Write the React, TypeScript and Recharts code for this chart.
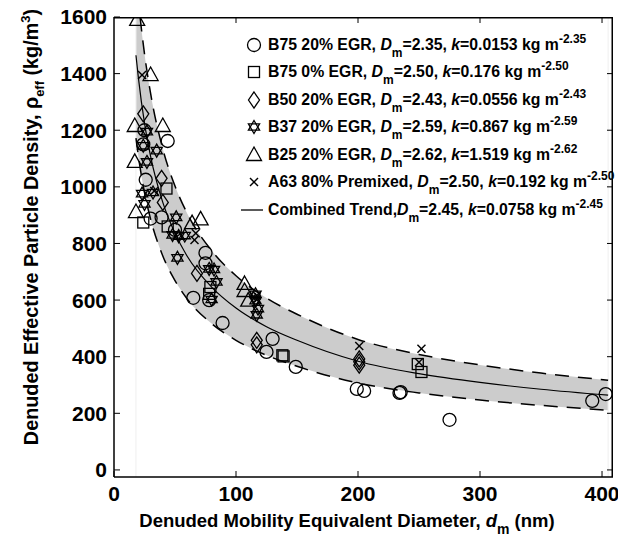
import React from 'react';
import { ComposedChart, Area, Line, Scatter, XAxis, YAxis, Legend, ReferenceLine } from 'recharts';

const FONT = 'Arial, "Liberation Sans", Helvetica, sans-serif';

// combined power-law trend and its shaded band
const trendX = [18, 20, 25, 30, 40, 50, 60, 80, 100, 125, 150, 200, 250, 300, 350, 405];
const trendY = [1465, 1385, 1225, 1108, 945, 836, 755, 646, 572, 506, 458, 384, 340, 309, 285, 264];
const upperY = [1760, 1660, 1470, 1330, 1134, 1003, 906, 775, 686, 607, 550, 461, 408, 371, 342, 317];
const lowerY = [1172, 1108, 980, 886, 756, 669, 604, 517, 458, 405, 366, 307, 272, 247, 228, 211];

// measured points, [d_m (nm), rho_eff (kg/m3)]
const b75egr20 = [
  [25, 1200], [24, 1150], [44, 1162], [26, 1025], [30, 888], [39, 892], [50, 848],
  [75, 767], [75, 730], [65, 608], [78, 600], [89, 519], [130, 463], [125, 417],
  [149, 364], [199, 286], [205, 279], [234, 272], [235, 275], [275, 177], [392, 244], [403, 268],
];
const b75egr0 = [
  [43, 994], [24, 874], [44, 860], [79, 646], [78, 622], [138, 405], [139, 401], [249, 374], [252, 346],
];
const b50egr20 = [
  [24, 1258], [39, 1030], [40, 945], [68, 694], [117, 458], [117, 442], [201, 392], [201, 382], [201, 370],
];
const b37egr20 = [
  [27, 1195], [24, 1145], [35, 1128], [27, 1088], [23, 976], [32, 980], [25, 940], [51, 892],
  [48, 830], [53, 826], [58, 828], [52, 749], [78, 710], [82, 708], [84, 664], [80, 602],
  [116, 620], [116, 598], [118, 570], [117, 548],
];
const b25egr20 = [
  [19, 1590], [30, 1395], [17, 1215], [40, 1215], [17, 1088], [18, 911], [64, 872], [71, 885],
  [107, 657], [107, 632], [110, 598],
];
const a63pre80 = [
  [23, 1395], [33, 985], [67, 836], [66, 812], [117, 616], [117, 602], [201, 438], [252, 428], [250, 380],
];

const seriesNames = ['B75 20% EGR', 'B75 0% EGR', 'B50 20% EGR', 'B37 20% EGR', 'B25 20% EGR', 'A63 80% Premixed', 'Combined Trend'];
const dmValues = ['2.35', '2.50', '2.43', '2.59', '2.62', '2.50', '2.45'];
const kValues = ['0.0153', '0.176', '0.0556', '0.867', '1.519', '0.192', '0.0758'];
const markerKinds = ['circle', 'square', 'diamond', 'hexagram', 'triangle', 'cross'];

const xTicks = [0, 100, 200, 300, 400];
const yTicks = [0, 200, 400, 600, 800, 1000, 1200, 1400, 1600];
const X_MAX = 409;
const Y_MIN = -25;
const Y_MAX = 1600;

const trendData = trendX.map((x, i) => ({
  x,
  trend: trendY[i],
  upper: upperY[i],
  lower: lowerY[i],
  band: [lowerY[i], upperY[i]],
}));

const toPoints = (arr: number[][]) => arr.map(([x, y]) => ({ x, y }));
const pointSets = [b75egr20, b75egr0, b50egr20, b37egr20, b25egr20, a63pre80].map(toPoints);

// top and right edges of the axes box, and their inward ticks
const boxEdge = [{ x: 0, y: Y_MAX }, { x: X_MAX, y: Y_MAX }, { x: X_MAX, y: Y_MIN }];
const topTicks = xTicks.slice(1).map((x) => ({ x, y: Y_MAX }));
const rightTicks = yTicks.map((y) => ({ x: X_MAX, y }));

function Marker({ kind, cx, cy }: { kind: string; cx: number; cy: number }) {
  const s = { fill: 'none', stroke: '#000', strokeWidth: 1.3 };
  switch (kind) {
    case 'circle':
      return <circle cx={cx} cy={cy} r={6.5} {...s} />;
    case 'square':
      return <rect x={cx - 5.5} y={cy - 5.5} width={11} height={11} {...s} />;
    case 'diamond':
      return <polygon points={`${cx},${cy - 8} ${cx + 5.5},${cy} ${cx},${cy + 8} ${cx - 5.5},${cy}`} {...s} />;
    case 'hexagram':
      return (
        <g {...s}>
          <polygon points={`${cx},${cy - 6.5} ${cx + 5.6},${cy + 3.2} ${cx - 5.6},${cy + 3.2}`} />
          <polygon points={`${cx},${cy + 6.5} ${cx + 5.6},${cy - 3.2} ${cx - 5.6},${cy - 3.2}`} />
        </g>
      );
    case 'triangle':
      return <polygon points={`${cx},${cy - 8} ${cx + 7.5},${cy + 5.5} ${cx - 7.5},${cy + 5.5}`} {...s} />;
    default:
      return (
        <g stroke="#000" strokeWidth={1.4}>
          <line x1={cx - 4} y1={cy - 4} x2={cx + 4} y2={cy + 4} />
          <line x1={cx - 4} y1={cy + 4} x2={cx + 4} y2={cy - 4} />
        </g>
      );
  }
}

const renderLegend = () => (
  <div style={{ fontFamily: FONT, fontWeight: 'bold', fontSize: 15.8, color: '#000' }}>
    {seriesNames.map((name, i) => (
      <div key={name} style={{ height: 27.5, display: 'flex', alignItems: 'center', whiteSpace: 'nowrap' }}>
        <svg width={28} height={20} style={{ flex: 'none' }}>
          {i < markerKinds.length ? (
            <Marker kind={markerKinds[i]} cx={14} cy={10} />
          ) : (
            <line x1={1} y1={10} x2={23} y2={10} stroke="#000" strokeWidth={1.3} />
          )}
        </svg>
        <span>
          {name},{i === 6 ? '' : ' '}
          <i>D</i>
          <span style={{ fontSize: 12, position: 'relative', top: 7 }}>m</span>={dmValues[i]}, <i>k</i>={kValues[i]} kg m
          <span style={{ fontSize: 12, position: 'relative', top: -7 }}>-{dmValues[i]}</span>
        </span>
      </div>
    ))}
  </div>
);

const XTitle = () => (
  <text x={347} y={527} textAnchor="middle" fontFamily={FONT} fontWeight="bold" fontSize={18.5} fill="#000">
    Denuded Mobility Equivalent Diameter,{' '}
    <tspan fontStyle="italic">d</tspan>
    <tspan dy={7} fontSize={14}>m</tspan>
    <tspan dy={-7}> (nm)</tspan>
  </text>
);

const YTitle = () => (
  <text
    x={38}
    y={227}
    transform="rotate(-90 38 227)"
    textAnchor="middle"
    fontFamily={FONT}
    fontWeight="bold"
    fontSize={19.8}
    fill="#000"
  >
    Denuded Effective Particle Density, ρ
    <tspan dy={6} fontSize={13}>eff</tspan>
    <tspan dy={-6}> (kg/m</tspan>
    <tspan dy={-8} fontSize={13}>3</tspan>
    <tspan dy={8}>)</tspan>
  </text>
);

const tickStyle = { fill: '#000', fontSize: 21, fontWeight: 'bold', fontFamily: FONT };
const axisLine = { stroke: '#000', strokeWidth: 1.5 };

export default function App() {
  return (
    <div style={{ position: 'absolute', left: 0, top: 0, background: '#fff' }}>
      <ComposedChart width={618} height={544} data={trendData} margin={{ top: 17, right: 5, bottom: 0, left: 0 }}>
        <XAxis
          dataKey="x"
          type="number"
          domain={[0, X_MAX]}
          ticks={xTicks}
          interval={0}
          height={67}
          tick={tickStyle}
          tickSize={-6}
          tickMargin={15}
          tickLine={{ stroke: '#000' }}
          axisLine={axisLine}
          allowDataOverflow
          label={{ content: XTitle }}
        />
        <YAxis
          type="number"
          domain={[Y_MIN, Y_MAX]}
          ticks={yTicks}
          interval={0}
          width={114}
          tick={tickStyle}
          tickSize={-6}
          tickMargin={13}
          tickLine={{ stroke: '#000' }}
          axisLine={axisLine}
          allowDataOverflow
          label={{ content: YTitle }}
        />
        <ReferenceLine x={18} stroke="#efefef" strokeWidth={1} />
        <ReferenceLine x={405} stroke="#efefef" strokeWidth={1} />
        <Area
          type="monotone"
          dataKey="band"
          stroke="none"
          fill="#cccccc"
          fillOpacity={1}
          isAnimationActive={false}
          legendType="none"
        />
        <Line type="monotone" dataKey="upper" stroke="#000" strokeWidth={1.5} strokeDasharray="14 9" dot={false} activeDot={false} isAnimationActive={false} legendType="none" />
        <Line type="monotone" dataKey="lower" stroke="#000" strokeWidth={1.5} strokeDasharray="14 9" dot={false} activeDot={false} isAnimationActive={false} legendType="none" />
        <Line type="monotone" dataKey="trend" stroke="#000" strokeWidth={1.2} dot={false} activeDot={false} isAnimationActive={false} />
        {pointSets.map((pts, i) => (
          <Scatter
            key={seriesNames[i]}
            name={seriesNames[i]}
            data={pts}
            dataKey="y"
            isAnimationActive={false}
            shape={(p: any) => <Marker kind={markerKinds[i]} cx={p.cx} cy={p.cy} />}
          />
        ))}
        {/* box frame: top/right edges as a connected scatter line, ticks as short marks */}
        <Scatter
          name="box"
          data={boxEdge}
          dataKey="y"
          isAnimationActive={false}
          legendType="none"
          line={{ stroke: '#000', strokeWidth: 3 }}
          lineJointType="linear"
          shape={() => <g />}
        />
        <Scatter
          name="top ticks"
          data={topTicks}
          dataKey="y"
          isAnimationActive={false}
          legendType="none"
          shape={(p: any) => <line x1={p.cx} y1={p.cy} x2={p.cx} y2={p.cy + 6} stroke="#000" strokeWidth={1} />}
        />
        <Scatter
          name="right ticks"
          data={rightTicks}
          dataKey="y"
          isAnimationActive={false}
          legendType="none"
          shape={(p: any) => <line x1={p.cx} y1={p.cy} x2={p.cx - 6} y2={p.cy} stroke="#000" strokeWidth={1} />}
        />
        <Legend
          layout="vertical"
          align="center"
          verticalAlign="middle"
          content={renderLegend}
          wrapperStyle={{ left: 240, top: 31, width: 376, height: 195 }}
        />
      </ComposedChart>
    </div>
  );
}
